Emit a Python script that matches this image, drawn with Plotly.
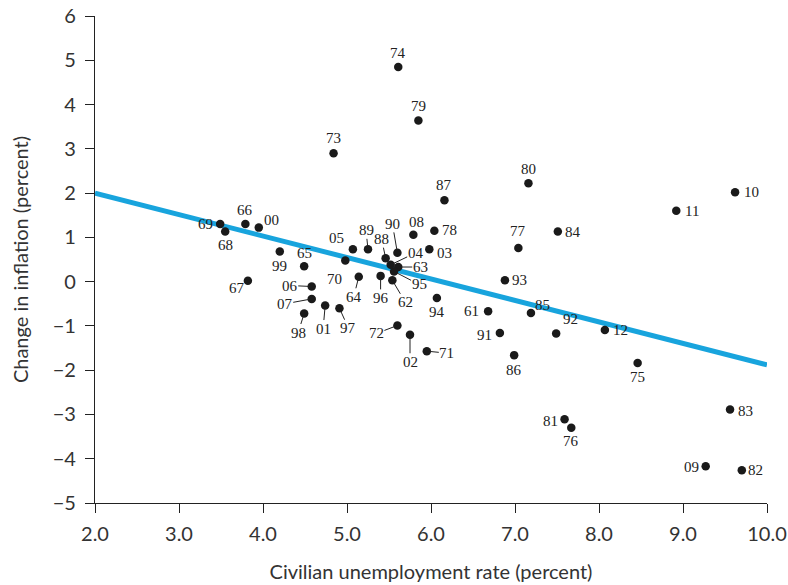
import plotly.graph_objects as go

# Year labels (two-digit) for each observation, 1961-2012
years = ["61", "62", "63", "64", "65", "66", "67", "68", "69", "70",
         "71", "72", "73", "74", "75", "76", "77", "78", "79", "80",
         "81", "82", "83", "84", "85", "86", "87", "88", "89", "90",
         "91", "92", "93", "94", "95", "96", "97", "98", "99", "00",
         "01", "02", "03", "04", "05", "06", "07", "08", "09", "10",
         "11", "12"]

# Civilian unemployment rate (percent)
unemployment = [6.68, 5.54, 5.61, 5.14, 4.49, 3.79, 3.82, 3.55, 3.49, 4.98,
                5.95, 5.60, 4.84, 5.61, 8.46, 7.67, 7.04, 6.04, 5.85, 7.16,
                7.59, 9.70, 9.56, 7.51, 7.19, 6.99, 6.16, 5.46, 5.25, 5.60,
                6.82, 7.49, 6.88, 6.07, 5.56, 5.40, 4.91, 4.49, 4.20, 3.95,
                4.74, 5.75, 5.98, 5.52, 5.07, 4.58, 4.58, 5.79, 9.27, 9.62,
                8.92, 8.07]

# Change in inflation (percent)
inflation_change = [-0.67, 0.03, 0.33, 0.11, 0.35, 1.30, 0.02, 1.13, 1.30, 0.48,
                    -1.57, -0.99, 2.90, 4.85, -1.84, -3.30, 0.76, 1.15, 3.64, 2.22,
                    -3.11, -4.26, -2.89, 1.13, -0.71, -1.66, 1.84, 0.53, 0.73, 0.65,
                    -1.16, -1.17, 0.03, -0.37, 0.23, 0.13, -0.60, -0.72, 0.68, 1.22,
                    -0.54, -1.20, 0.73, 0.38, 0.73, -0.11, -0.39, 1.06, -4.17, 2.02,
                    1.60, -1.09]

# Fitted trade-off line endpoints
fit_x = [2.0, 10.0]
fit_y = [2.0, -1.88]

x_ticks = [2, 3, 4, 5, 6, 7, 8, 9, 10]
y_ticks = [-5, -4, -3, -2, -1, 0, 1, 2, 3, 4, 5, 6]

# Label placement: (dx right px, dy up px, leader line)
label_place = {
    "61": (-17, 0, False), "62": (13, -22, True), "63": (22, 0, True),
    "64": (-5, -20, True), "65": (0, 13, False), "66": (0, 14, False),
    "67": (-11, -7, False), "68": (0, -13, False), "69": (-15, 0, False),
    "70": (-11, -19, False), "71": (20, -2, True), "72": (-21, -8, True),
    "73": (0, 15, False), "74": (0, 14, False), "75": (0, -14, False),
    "76": (0, -13, False), "77": (0, 17, False), "78": (15, 1, False),
    "79": (0, 14, False), "80": (0, 14, False), "81": (-14, -2, False),
    "82": (14, 0, False), "83": (15, -1, False), "84": (15, 0, False),
    "85": (12, 8, False), "86": (0, -15, False), "87": (0, 15, False),
    "88": (-4, 19, True), "89": (-2, 19, True), "90": (-5, 29, True),
    "91": (-15, -2, False), "92": (14, 14, False), "93": (15, 0, False),
    "94": (0, -14, False), "95": (25, -13, True), "96": (0, -22, True),
    "97": (9, -20, True), "98": (-6, -19, True), "99": (0, -14, False),
    "00": (13, 8, False), "01": (-2, -23, True), "02": (0, -27, True),
    "03": (15, -4, False), "04": (25, 12, True), "05": (-16, 11, False),
    "06": (-22, 1, True), "07": (-27, -5, True), "08": (3, 13, False),
    "09": (-14, -1, False), "10": (16, 0, False), "11": (16, 0, False),
    "12": (16, 0, False),
}

fig = go.Figure()

fig.add_trace(go.Scatter(
    x=fit_x, y=fit_y, mode="lines",
    line=dict(color="#18a4dd", width=5),
    hoverinfo="skip", showlegend=False,
))

fig.add_trace(go.Scatter(
    x=unemployment, y=inflation_change, mode="markers",
    marker=dict(size=8.5, color="#1a1a1a"),
    text=years, hoverinfo="text", showlegend=False,
))

label_font = dict(family="Liberation Serif", size=15, color="#222222")
annotations = []
for yr, ux, iy in zip(years, unemployment, inflation_change):
    dx, dy, leader = label_place[yr]
    if leader:
        annotations.append(dict(
            x=ux, y=iy, xref="x", yref="y", text=yr,
            showarrow=True, arrowhead=0, arrowwidth=1, arrowcolor="#222222",
            ax=dx, ay=-dy, standoff=3, borderpad=0, font=label_font,
        ))
    else:
        annotations.append(dict(
            x=ux, y=iy, xref="x", yref="y", text=yr, showarrow=False,
            xshift=dx, yshift=dy, xanchor="center", yanchor="middle",
            font=label_font,
        ))

tick_font = dict(family="Lato", size=20, color="#333333")
title_font = dict(family="Lato", size=20, color="#333333")

fig.update_layout(
    width=788, height=585,
    margin=dict(l=95, r=21, t=16, b=82),
    paper_bgcolor="white", plot_bgcolor="white",
    annotations=annotations,
    xaxis=dict(
        range=[2, 10], tickvals=x_ticks, tickformat=".1f",
        showline=True, linecolor="#222222", linewidth=1.2,
        ticks="outside", ticklen=9, tickcolor="#222222", tickwidth=1.2,
        ticklabelstandoff=4,
        showgrid=False, zeroline=False, tickfont=tick_font,
        title=dict(text="Civilian unemployment rate (percent)",
                   font=title_font, standoff=20),
        automargin=False,
    ),
    yaxis=dict(
        range=[-5, 6], tickvals=y_ticks,
        showline=True, linecolor="#222222", linewidth=1.2,
        ticks="outside", ticklen=9, tickcolor="#222222", tickwidth=1.2,
        ticklabelstandoff=5,
        showgrid=False, zeroline=False, tickfont=tick_font,
        title=dict(text="Change in inflation (percent)",
                   font=title_font, standoff=18),
        automargin=False,
    ),
)

fig.write_html("out.html")
